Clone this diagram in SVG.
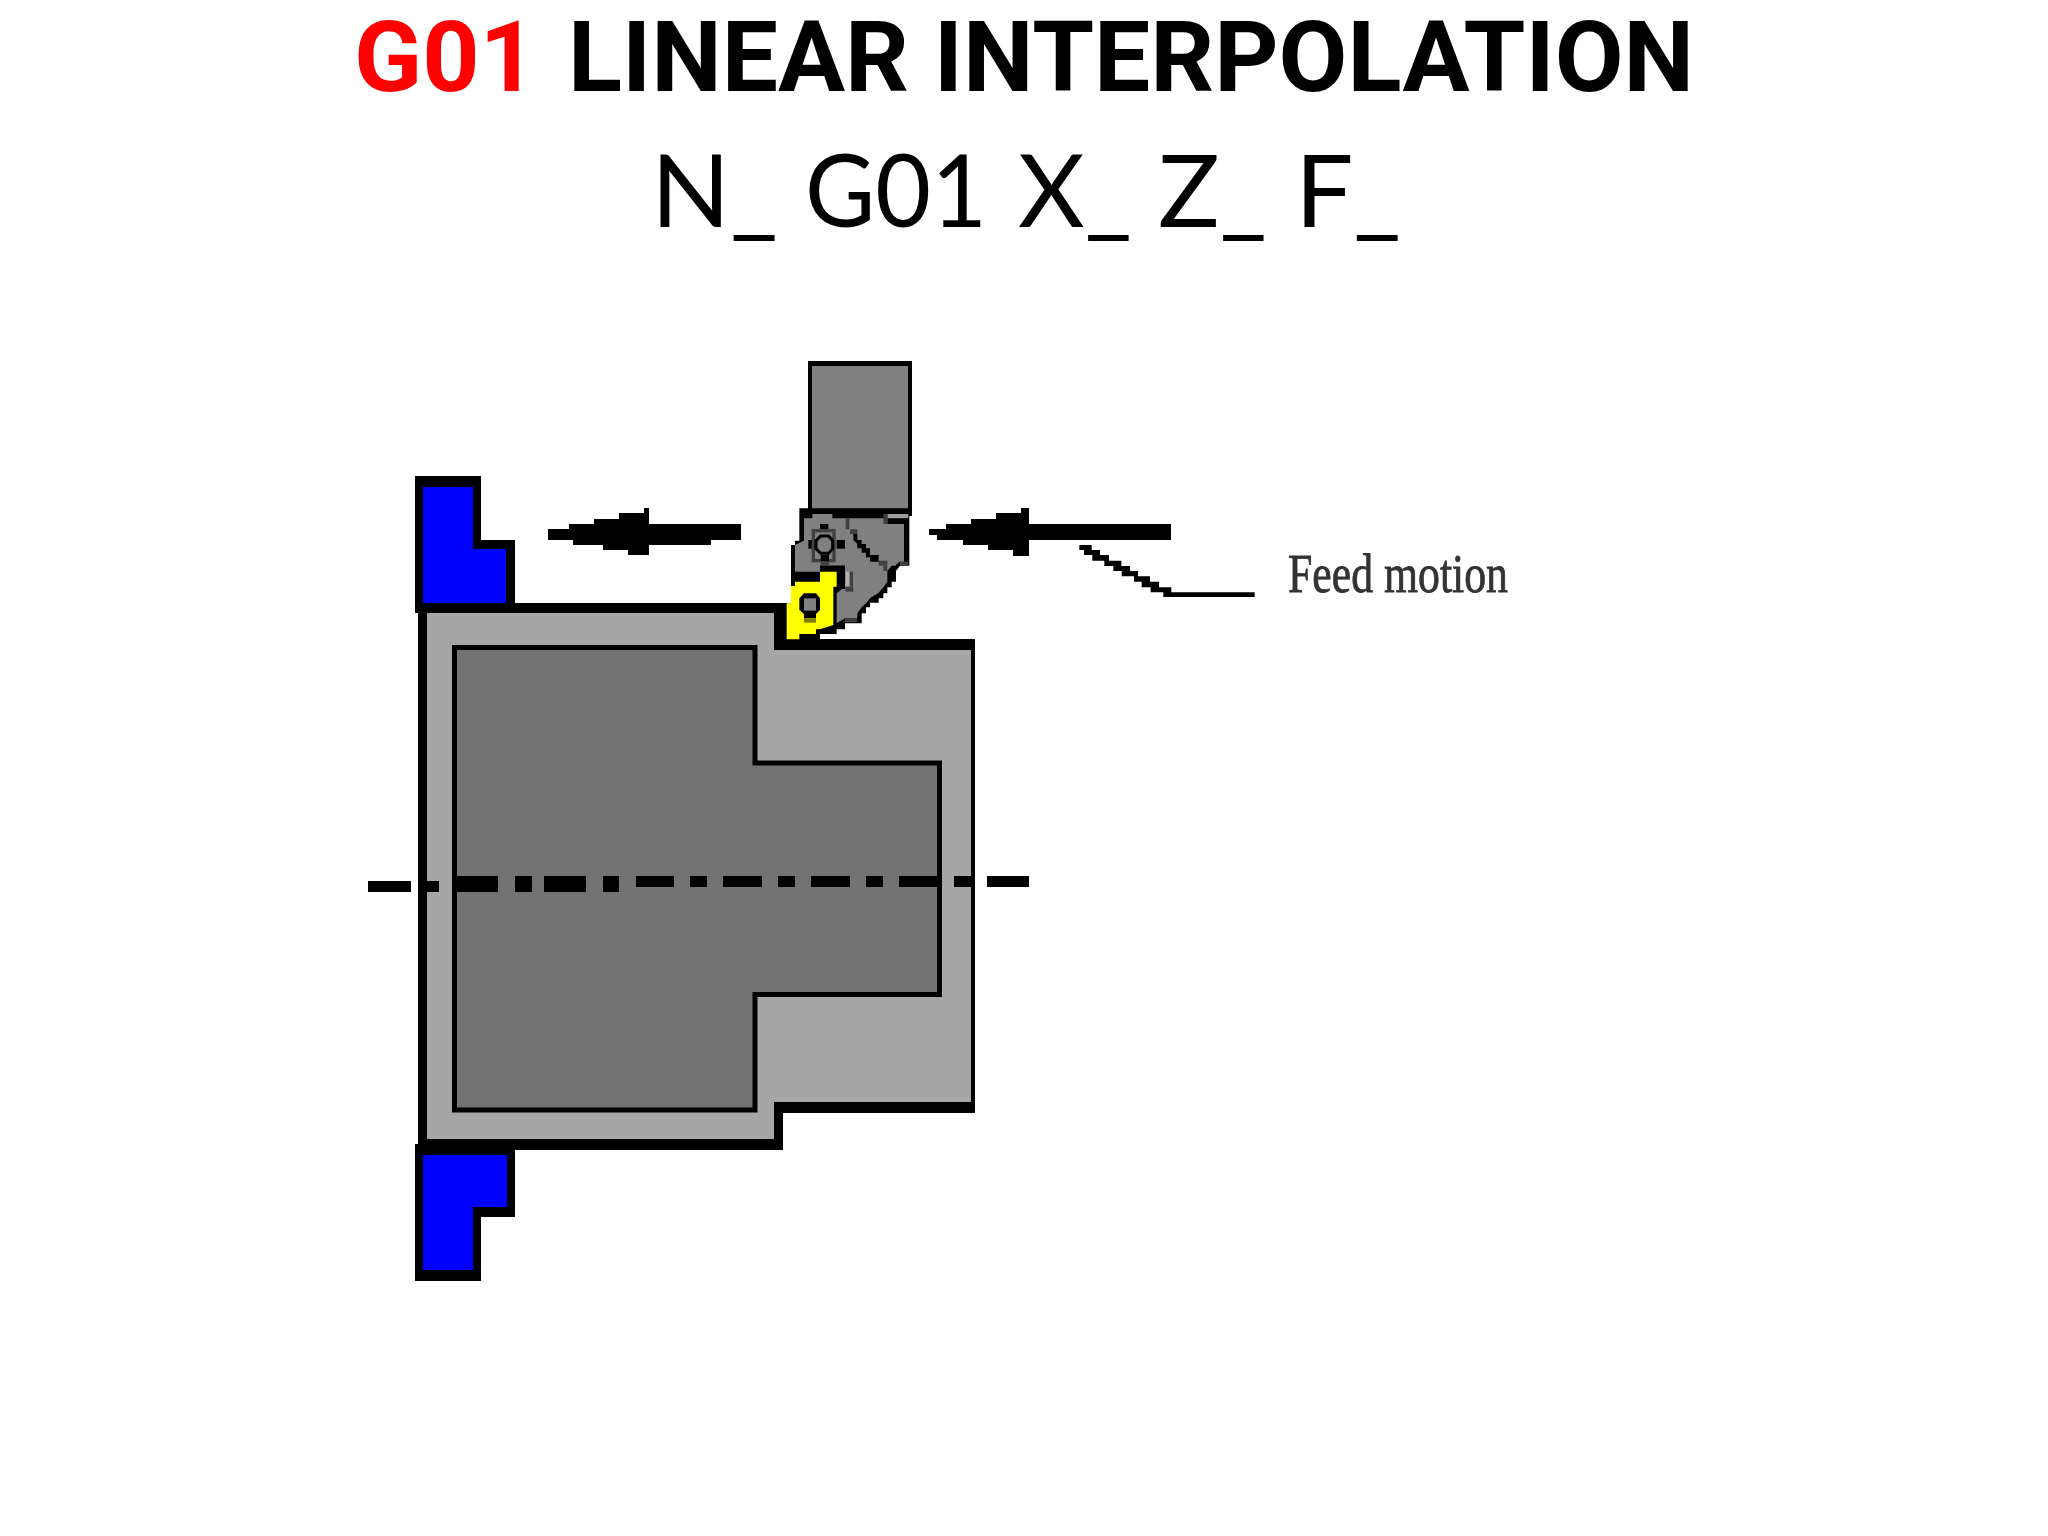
<svg xmlns="http://www.w3.org/2000/svg" width="2048" height="1536" viewBox="0 0 2048 1536">
<style>
.k{fill:#000}.b{fill:#0000ff}.l{fill:#a6a6a6}.t{fill:#808080}.y{fill:#ffff00}.d{fill:#404040}
.title{font-family:Roboto,"Open Sans",sans-serif;font-size:98px;font-weight:700}
.sub{font-family:Lato,"Open Sans",sans-serif;font-size:100px}
</style>
<rect width="2048" height="1536" fill="#fff"/>
<text class="title" y="91"><tspan x="354" fill="#ff0000" textLength="183" lengthAdjust="spacingAndGlyphs">G01</tspan><tspan x="568" fill="#000" textLength="1126" lengthAdjust="spacingAndGlyphs">LINEAR INTERPOLATION</tspan></text>
<text class="sub" y="227" fill="#000"><tspan x="651" textLength="127" lengthAdjust="spacingAndGlyphs">N_</tspan><tspan x="805" textLength="182" lengthAdjust="spacingAndGlyphs">G01</tspan><tspan x="1018" textLength="114" lengthAdjust="spacingAndGlyphs">X_</tspan><tspan x="1158" textLength="109" lengthAdjust="spacingAndGlyphs">Z_</tspan><tspan x="1295" textLength="106" lengthAdjust="spacingAndGlyphs">F_</tspan></text>

<g id="workpiece">
<polygon class="k" points="418,603 787,603 787,639 975,639 975,1113 783,1113 783,1150 418,1150"/>
<polygon class="l" points="427,613 774,613 774,650 971,650 971,1102 774,1102 774,1139 427,1139"/>
<polygon fill="#737373" stroke="#000" stroke-width="5" points="454.5,647.5 755,647.5 755,763 939.5,763 939.5,994.5 755,994.5 755,1110 454.5,1110"/>
</g>
<g id="clamp-top">
<polygon class="k" points="415,476 481,476 481,540 515,540 515,613 415,613"/>
<polygon class="b" points="423,487 473,487 473,549 506,549 506,603 423,603"/>
</g>
<g id="clamp-bottom">
<polygon class="k" points="415,1144 515,1144 515,1217 481,1217 481,1281 415,1281"/>
<polygon class="b" points="423,1155 507,1155 507,1207 473,1207 473,1270 423,1270"/>
</g>
<g id="centerline" class="k">
<rect x="368" y="881" width="43" height="11"/><rect x="427" y="881" width="12" height="11"/>
<rect x="457" y="876" width="41" height="16"/><rect x="515" y="876" width="17" height="16"/>
<rect x="544" y="876" width="42" height="16"/><rect x="603" y="876" width="16" height="16"/>
<rect x="636" y="876" width="38" height="11"/><rect x="690" y="876" width="17" height="11"/>
<rect x="723" y="876" width="39" height="11"/><rect x="778" y="876" width="17" height="11"/>
<rect x="811" y="876" width="39" height="11"/><rect x="866" y="876" width="17" height="11"/>
<rect x="899" y="876" width="39" height="11"/><rect x="954" y="876" width="18" height="11"/>
<rect x="987" y="876" width="42" height="11"/>
</g>
<g id="tool">
<rect class="k" x="808" y="361" width="104" height="155"/>
<rect class="t" x="812" y="366" width="96" height="145"/>
<g transform="translate(780,500) scale(0.33333)">
<polygon class="k" points="58,25 388,25 388,197 360,197 348,213 348,245 335,245 335,262 322,262 322,280 310,280 310,295 296,295 296,308 270,308 270,322 258,322 258,340 245,340 245,370 195,370 195,388 170,388 170,402 120,402 120,420 20,420 20,310 33,310 33,135 45,135 45,122 58,122"/>
<polygon class="t" points="72,55 97,55 97,42 157,42 157,55 372,55 372,185 358,185 346,197 335,197 322,213 322,245 310,262 296,278 270,295 258,310 245,322 232,340 232,355 195,355 170,370 170,280 195,260 195,215 170,197 120,197 120,215 45,215 45,135 72,122"/>
<rect class="k" x="120" y="197" width="75" height="18"/><rect class="k" x="170" y="197" width="25" height="70"/>
<rect fill="#b0b0b0" x="197" y="215" width="12" height="45"/><rect class="d" x="209" y="215" width="10" height="45"/><rect class="d" x="196" y="260" width="24" height="15"/>
<rect class="d" x="195" y="355" width="37" height="12"/>
<rect class="k" x="120" y="72" width="25" height="18"/><rect class="k" x="85" y="120" width="12" height="26"/><rect class="k" x="170" y="120" width="25" height="26"/>
<rect class="t" x="100" y="92" width="62" height="90" stroke="#404040" stroke-width="10"/>
<polygon class="t" stroke="#000" stroke-width="9" points="122,108 146,108 158,122 158,146 146,160 122,160 108,146 108,122"/>
<rect class="k" x="122" y="165" width="25" height="18"/><rect class="d" x="122" y="183" width="25" height="13"/>
<rect class="d" x="197" y="55" width="11" height="33"/><rect class="d" x="210" y="88" width="22" height="14"/>
<polygon class="k" points="220,102 232,102 232,120 245,120 245,132 258,132 258,145 270,145 270,165 296,165 296,185 270,185 270,172 258,172 258,158 245,158 245,145 232,145 232,132 220,120"/>
<rect class="d" x="296" y="182" width="26" height="15"/><rect class="d" x="310" y="197" width="12" height="16"/><rect class="d" x="360" y="185" width="25" height="12"/>
<rect fill="#9a9a9a" x="322" y="42" width="63" height="13"/><rect class="k" x="322" y="55" width="63" height="17"/><rect class="d" x="310" y="42" width="12" height="30"/>
<polygon class="y" points="45,245 120,245 120,215 170,215 170,260 160,260 160,375 120,388 108,388 108,402 58,402 58,418 20,418 20,310 33,310 33,258 45,258"/>
<polygon class="k" points="72,280 108,280 120,295 120,330 108,342 108,355 72,355 72,342 58,330 58,295"/>
<rect class="t" x="72" y="295" width="36" height="37"/>
<rect fill="#808000" x="72" y="355" width="36" height="13"/>
</g>
</g>
<g id="feed-arrows" class="k">
<polygon points="548,529 569,529 569,524 594,524 594,519 619,519 619,513 644,513 644,508 649,508 649,524 741,524 741,540 711,540 711,545 649,545 649,555 628,555 628,550 603,550 603,545 573,545 573,540 548,540"/>
<polygon points="929,529 946,529 946,524 971,524 971,519 996,519 996,513 1021,513 1021,508 1029,508 1029,524 1171,524 1171,540 1029,540 1029,556 1013,556 1013,550 988,550 988,545 963,545 963,540 937,540 937,535 929,535"/>
<polygon transform="translate(1060,500) scale(0.33333)" points="58,135 95,135 95,150 120,150 120,165 147,165 147,182 184,182 184,198 210,198 210,213 234,213 234,229 270,229 270,245 297,245 297,262 334,262 334,277 584,277 584,291 310,291 310,277 272,277 272,262 245,262 245,245 222,245 222,229 185,229 185,213 160,213 160,198 133,198 133,182 97,182 97,165 72,165 72,150 58,150"/>
</g>
<text id="feed-label" x="1288" y="592" font-family="'Liberation Serif','Times New Roman',serif" font-size="54" fill="#333" stroke="#333" stroke-width="0.8" textLength="220" lengthAdjust="spacingAndGlyphs">Feed motion</text>
</svg>
